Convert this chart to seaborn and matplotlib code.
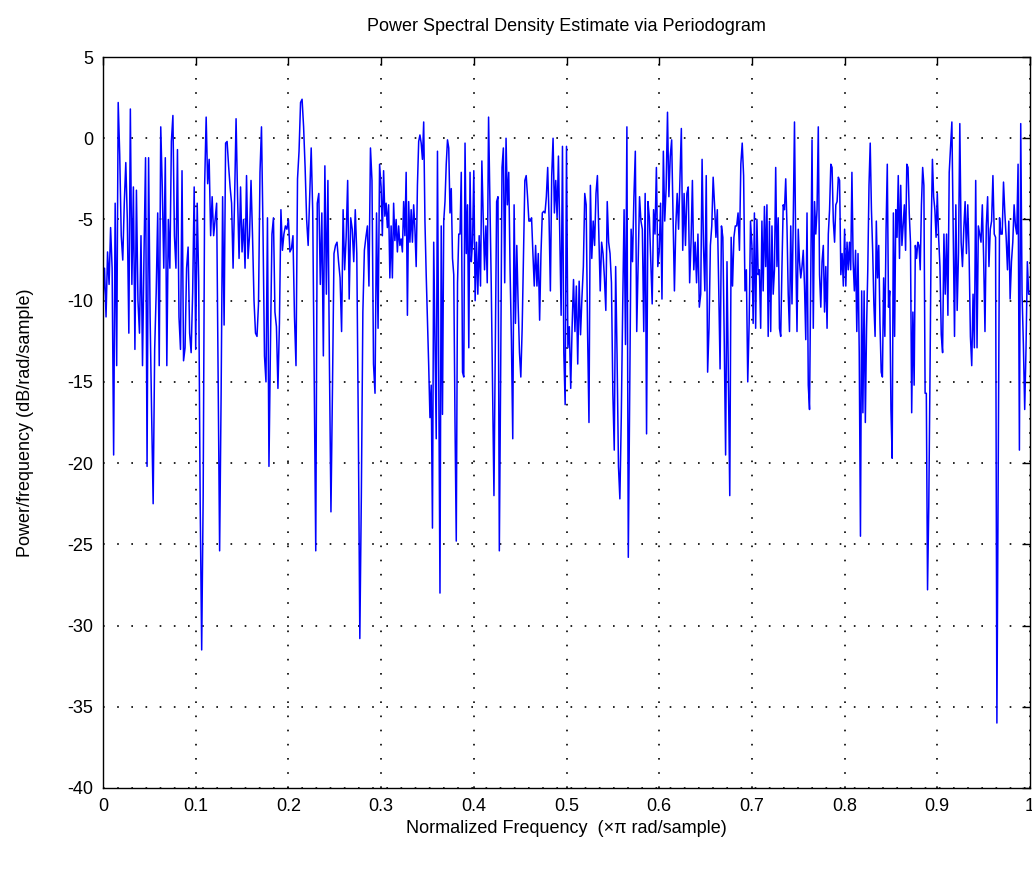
import numpy as np
import pandas as pd
import matplotlib
matplotlib.use("Agg")
import matplotlib.pyplot as plt
import seaborn as sns

# PSD values (dB/rad/sample), one list per tenth of the normalized frequency axis
psd_seg0 = [-10, -8, -11, -7, -9, -5.5, -8, -19.5, -4, -14, 2.2, -1, -6, -7.5, -4, -1.5, -5, -12, 1.8, -9,
            -3, -13, -3.2, -10, -12, -6, -14, -7, -1.2, -20.2, -1.2, -11, -17, -22.5, -13, -9.5, -4.6, -14,
            0.7, -3, -8, -1.2, -14, -5, -8, -0.2, 1.4, -6, -8, -0.7, -11, -13, -2, -13.7, -12.9, -8, -6.7,
            -12, -13.2, -9.5, -3]
psd_seg1 = [-13, -4, -8.8, -22.5, -31.5, -22, -2.8, 1.3, -2.8, -1.3, -6, -3.6, -6, -5, -4, -14.7, -25.4,
            -15.8, -3.6, -11.5, -0.3, -0.2, -1.7, -3, -4, -8, -3.8, 1.2, -3.6, -7.4, -3, -7, -5, -8, -2.3,
            -7.4, -6, -2.6, -6, -10, -12, -12.2, -10.2, -2.1, 0.7, -5.6, -13.4, -15, -4.9, -20.2, -12.7,
            -5.9, -4.9, -10.7, -11.6, -15.4, -11.4, -4.4, -6.9, -5.9, -5.4, -5.6]
psd_seg2 = [-5, -7, -6.8, -6, -11, -14, -2.5, -0.8, 2.2, 2.4, 0.7, -1.8, -5, -6.6, -3.6, -0.6, -4.5, -14.7,
            -25.4, -4, -3.4, -9, -4.6, -13.4, -1.7, -9.6, -2.6, -13.9, -23, -15.4, -7.1, -6.6, -6.4, -7.6,
            -8.6, -11.9, -4.4, -8.1, -6.1, -2.6, -9.9, -4.9, -5.6, -7.6, -4.4, -7.1, -17.7, -30.8, -22,
            -10.7, -6.9, -6.1, -5.4, -9.1, -0.6, -2.6, -13.9, -15.7, -4.6, -11.7, -1.6]
psd_seg3 = [-3, -6, -2, -4.8, -4, -5.5, -4.1, -8.6, -5.4, -8.6, -4, -6.3, -5, -7, -5.4, -6.6, -6.2, -7,
            -3.9, -6, -2.1, -10.9, -3.9, -6.4, -4.4, -6.4, -4.1, -5.6, -7.9, -2.9, -0.2, 0.2, -0.3, -1.3, 1,
            -5.1, -8.4, -11.2, -14, -17.2, -15.2, -24, -6.4, -12.4, -18.5, -0.8, -14.7, -28, -5.4, -17,
            -5.1, -3.9, -1.6, -0.1, -0.6, -4.6, -3.1, -7.4, -8.4, -17.5, -24.8, -8.9, -5.9, -5.9, -2.1,
            -14.4, -14.7, -0.3, -7.1, -4.1, -12.9, -2.1, -7.6, -6.4]
psd_seg4 = [-2, -10, -6.4, -9.6, -6, -9.1, -1.4, -4.9, -8.1, -5.4, -8.9, 1.3, -3.9, -9.1, -15.4, -22,
            -12.9, -3.9, -3.6, -25.4, -14.4, -1.8, -0.6, -8.9, 0, -4.1, -2.1, -8.1, -12.4, -18.5, -4.1,
            -11.4, -6.6, -10.2, -13.2, -14.7, -11.7, -7.1, -2.6, -2.3, -3.6, -5.1, -5.1, -4.9, -7.1, -9.1,
            -6.6, -9.1, -7.1, -11.2, -7.1, -4.6, -4.5, -4.6, -3.6, -1.8, -4.9, -9.4, -2.3, 0, -4.6, -2.6,
            -4.9, -1.1, -5.9, -10.9, -0.5, -13.2, -16.4]
psd_seg5 = [-0.5, -12.9, -11.6, -15.4, -11.6, -8.7, -11.9, -9.1, -13.9, -8.8, -12.1, -9.8, -7.9, -3.4,
            -4.1, -11.9, -17.5, -2.9, -7.4, -5.1, -6.6, -3.4, -2.3, -5.9, -9.4, -6.4, -7.1, -8.6, -10.6,
            -3.9, -6.4, -7.1, -8.9, -15.7, -19.2, -7.9, -13.4, -20.2, -22.2, -17.2, -10.4, -4.4, -12.7, 0.7,
            -25.8, -15.7, -5.6, -7.6, -3.6, -0.8, -11.9, -7.6, -3.6, -5.1, -5.6, -11.9, -3.4, -18.2, -3.9,
            -4.9, -7.6, -10.2, -4.4, -5.9, -1.8, -7.9]
psd_seg6 = [-7, -4, -9.9, -0.8, -5.1, -3.1, 1.6, -3.6, -1.1, -0.1, -4.6, -9.4, -5.4, -3.4, -5.6, -2.6, 0.6,
            -6.9, -3.4, -6.6, -3.4, -3, -8.9, -6.4, -2.6, -8.1, -6.4, -8.9, -5.9, -10.4, -9.6, -1.3, -6.6,
            -9.4, -2.3, -14.4, -11.7, -6.6, -5.4, -2.4, -4.1, -6.1, -4.4, -9.1, -14.2, -5.4, -6.1, -12.4,
            -19.5, -7.6, -15, -22, -6.1, -9.1, -6.1, -5.4, -5.4, -4.6, -6.9, -1.6, -0.3, -2.3, -9.4, -8.1,
            -15, -11.4, -5.1]
psd_seg7 = [-6.6, -11.4, -4.6, -11.7, -5, -8.4, -8.1, -11.7, -5.1, -9.4, -4.2, -7.9, -4.1, -12.2, -5.1,
            -11.9, -5.4, -9.6, -8.1, -1.8, -7.9, -4.9, -11.7, -12.2, -7.9, -4.1, -4.4, -2.5, -5.4, -9.6,
            -11.9, -5.4, -10.2, -5.1, 1, -6.9, -11.9, -5.6, -7.6, -8.6, -7.9, -6.9, -9.1, -12.4, -4.6,
            -15.2, -16.7, -8.4, -0.1, -11.7, -3.9, -5.9, -4.4, 0.7, -8.4, -10.4, -7.6, -6.6, -10.7, -7.9,
            -11.7, -5.9, -4.4, -1.6, -1.8, -5.1, -6.4, -4.1, -3.9, -2.4, -2.6, -8.4, -7.1, -9.1]
psd_seg8 = [-5.6, -9.1, -6.4, -8.1, -6.4, -8.1, -2.1, -7.6, -9.4, -6.9, -11.9, -7.1, -13.2, -24.5, -9.4,
            -16.9, -9.4, -17.5, -11.7, -8.1, -2.9, -0.3, -4.4, -6.9, -10.2, -12.2, -5.1, -8.6, -6.6, -11.4,
            -14.4, -14.7, -8.6, -12.2, -5.6, -1.6, -10.4, -9.4, -16.7, -19.7, -4.6, -12.2, -4.4, -6.1, -2.3,
            -7.4, -2.9, -6.6, -5.4, -4.1, -6.9, -1.6, -1.8, -4.6, -6.4, -16.9, -10.7, -15.2, -6.6, -7.4,
            -6.4, -6.6, -8.1, -4.1, -1.8, -2.9, -15.7, -15.7, -27.8, -22.7, -14.7, -5.6, -1.3, -3.6, -4.4,
            -6.1]
psd_seg9 = [-3.4, -6.1, -7.9, -12.1, -13.2, -5.9, -9.6, -5.9, -10.9, -2.1, -0.6, 1, -5.6, -12.2, -4.1,
            -10.6, -7.1, 0.9, -6.4, -7.9, -5.6, -3.9, -7.1, -4.1, -7.1, -12.2, -14, -9.6, -12.9, -2.6,
            -12.9, -5.4, -5.9, -6.4, -4.1, -7.4, -11.9, -5.4, -3.6, -7.9, -5.6, -5.1, -2.3, -5.9, -6.1, -36,
            -20.5, -4.9, -5.9, -5.9, -2.7, -4.6, -6.1, -8.1, -5.1, -9.9, -7.6, -6.4, -4.1, -5.4, -5.9, -1.6,
            -19.2, 0.9, -9.6, -12.7, -16.7, -12.9, -7.6, -9.6, -9.6]

segments = [psd_seg0, psd_seg1, psd_seg2, psd_seg3, psd_seg4,
            psd_seg5, psd_seg6, psd_seg7, psd_seg8, psd_seg9]

x_ticks = [0, 0.1, 0.2, 0.3, 0.4, 0.5, 0.6, 0.7, 0.8, 0.9, 1]
x_tick_labels = ["0", "0.1", "0.2", "0.3", "0.4", "0.5", "0.6", "0.7", "0.8", "0.9", "1"]
y_ticks = [-40, -35, -30, -25, -20, -15, -10, -5, 0, 5]
y_tick_labels = ["-40", "-35", "-30", "-25", "-20", "-15", "-10", "-5", "0", "5"]

title = "Power Spectral Density Estimate via Periodogram"
x_label = "Normalized Frequency  (\u00d7\u03c0 rad/sample)"
y_label = "Power/frequency (dB/rad/sample)"

# frequency grid: each segment spans one tenth of the axis
freqs, vals = [], []
nseg = len(segments)
for k, seg in enumerate(segments):
    last = (k == nseg - 1)
    f = np.linspace(k / nseg, (k + 1) / nseg, len(seg), endpoint=last)
    freqs.extend(f)
    vals.extend(seg)
df = pd.DataFrame({"freq": freqs, "psd": vals})

sns.set_style("white")
plt.rcParams["font.family"] = ["Liberation Sans", "DejaVu Sans"]
plt.rcParams["text.color"] = "black"
plt.rcParams["axes.labelcolor"] = "black"

fig = plt.figure(figsize=(10.32, 8.69), dpi=100)
ax = fig.add_axes([103 / 1032, 1 - 788 / 869, 927 / 1032, (788 - 57) / 869])

sns.lineplot(data=df, x="freq", y="psd", color=(0, 0, 1), linewidth=1.1,
             estimator=None, sort=False, ax=ax)

ax.set_xlim(0, 1)
ax.set_ylim(-40, 5)
ax.set_xticks(x_ticks)
ax.set_xticklabels(x_tick_labels)
ax.set_yticks(y_ticks)
ax.set_yticklabels(y_tick_labels)

ax.grid(True, color="black", linestyle=(0, (1, 7.5)), linewidth=1.2)
ax.tick_params(direction="in", length=6, width=1, top=True, right=True,
               labelsize=13, colors="black", labelcolor="black", pad=7)
for sp in ax.spines.values():
    sp.set_visible(True)
    sp.set_color("black")
    sp.set_linewidth(1.0)

ax.set_title(title, fontsize=13, pad=19, color="black")
ax.set_xlabel(x_label, fontsize=13, labelpad=4, color="black")
ax.set_ylabel(y_label, fontsize=13, labelpad=24, color="black")

fig.savefig("out.png", dpi=100, facecolor="white")
